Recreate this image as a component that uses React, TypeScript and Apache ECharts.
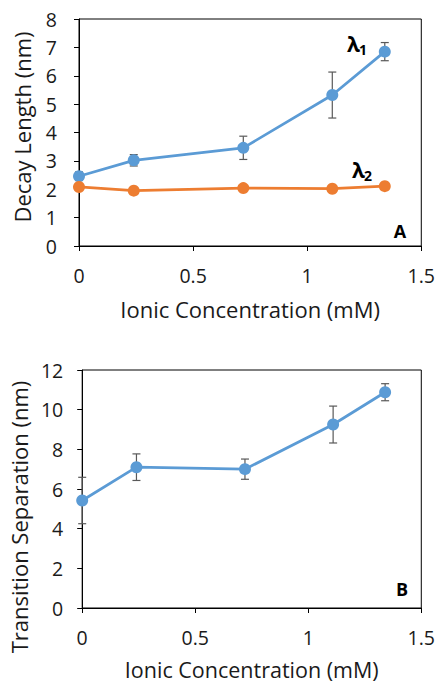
import React, { useEffect, useRef } from "react";
import * as echarts from "echarts";

const concentration = [0, 0.24, 0.72, 1.11, 1.34];
const lambda1 = [2.46, 3.02, 3.46, 5.32, 6.85];
const lambda1Err = [0.15, 0.2, 0.41, 0.81, 0.32];
const lambda2 = [2.08, 1.95, 2.04, 2.02, 2.11];
const separation = [5.42, 7.1, 7.0, 9.25, 10.88];
const separationErr = [1.17, 0.67, 0.51, 0.93, 0.43];

const xTitle = "Ionic Concentration (mM)";
const yTitleA = "Decay Length (nm)";
const yTitleB = "Transition Separation (nm)";

const BLUE = "#5B9BD5";
const ORANGE = "#ED7D31";
const FONT = "Open Sans";
const TEXT = "#1a1a1a";

function errorSeries(xIndex: number, vals: number[], errs: number[]) {
  return {
    type: "custom",
    xAxisIndex: xIndex,
    yAxisIndex: xIndex,
    z: 1,
    data: concentration.map((c, i) => [c, vals[i], errs[i]]),
    renderItem: (params: any, api: any) => {
      const x = api.value(0);
      const y = api.value(1);
      const e = api.value(2);
      const hi = api.coord([x, y + e]);
      const lo = api.coord([x, y - e]);
      const cap = 4;
      const style = { stroke: "#595959", lineWidth: 1.2 };
      return {
        type: "group",
        children: [
          { type: "line", shape: { x1: hi[0], y1: hi[1], x2: lo[0], y2: lo[1] }, style },
          { type: "line", shape: { x1: hi[0] - cap, y1: hi[1], x2: hi[0] + cap, y2: hi[1] }, style },
          { type: "line", shape: { x1: lo[0] - cap, y1: lo[1], x2: lo[0] + cap, y2: lo[1] }, style },
        ],
      };
    },
  };
}

function lineSeries(idx: number, vals: number[], color: string) {
  return {
    type: "line",
    xAxisIndex: idx,
    yAxisIndex: idx,
    z: 3,
    data: concentration.map((c, i) => [c, vals[i]]),
    symbol: "circle",
    symbolSize: 12,
    itemStyle: { color },
    lineStyle: { color, width: 2.75 },
  };
}

function lambdaLabel(x: number, y: number, sub: string) {
  return [
    {
      type: "text",
      x,
      y,
      style: { text: "λ", font: "bold 21px 'Open Sans'", fill: "#000", align: "left", verticalAlign: "middle" },
    },
    {
      type: "text",
      x: x + 12,
      y: y + 5,
      style: { text: sub, font: "bold 14px 'Open Sans'", fill: "#000", align: "left", verticalAlign: "middle" },
    },
  ];
}

export default function App() {
  const ref = useRef<HTMLDivElement>(null);
  useEffect(() => {
    const chart = echarts.init(ref.current!, null, { renderer: "svg" });
    const axisLine = { show: true, lineStyle: { color: "#000", width: 1 } };
    const axisTick = { show: true, inside: false, length: 5, lineStyle: { color: "#000" } };
    const labelStyle = { color: TEXT, fontSize: 19.5, fontFamily: FONT };
    const nameStyle = { color: TEXT, fontSize: 22, fontFamily: FONT };
    const xAxisCommon = (idx: number, margin: number, gap: number, size: number) => ({
      type: "value",
      gridIndex: idx,
      min: 0,
      max: 1.5,
      interval: 0.5,
      splitLine: { show: false },
      axisLine,
      axisTick,
      axisLabel: { ...labelStyle, margin },
      name: xTitle,
      nameLocation: "middle",
      nameGap: gap,
      nameTextStyle: { ...nameStyle, fontSize: size, lineHeight: size + 2 },
    });
    chart.setOption({
      animation: false,
      textStyle: { fontFamily: FONT },
      grid: [
        { left: 79, top: 19, width: 344, height: 227, show: true, borderColor: "#000", borderWidth: 1 },
        { left: 81, top: 370, width: 342, height: 238, show: true, borderColor: "#000", borderWidth: 1 },
      ],
      xAxis: [xAxisCommon(0, 19, 51, 22), xAxisCommon(1, 19, 50, 21.5)],
      yAxis: [
        {
          type: "value",
          gridIndex: 0,
          min: 0,
          max: 8,
          interval: 1,
          splitLine: { show: false },
          axisLine,
          axisTick,
          axisLabel: { ...labelStyle, margin: 22 },
          name: yTitleA,
          nameLocation: "middle",
          nameGap: 46,
          nameTextStyle: { ...nameStyle, padding: [0, 0, 0, 11] },
        },
        {
          type: "value",
          gridIndex: 1,
          min: 0,
          max: 12,
          interval: 2,
          splitLine: { show: false },
          axisLine,
          axisTick,
          axisLabel: { ...labelStyle, margin: 19 },
          name: yTitleB,
          nameLocation: "middle",
          nameGap: 50,
          nameTextStyle: { ...nameStyle, padding: [0, 56, 0, 0] },
        },
      ],
      series: [
        errorSeries(0, lambda1, lambda1Err),
        lineSeries(0, lambda1, BLUE),
        lineSeries(0, lambda2, ORANGE),
        errorSeries(1, separation, separationErr),
        lineSeries(1, separation, BLUE),
      ],
      graphic: [
        ...lambdaLabel(347, 44, "1"),
        ...lambdaLabel(352, 170, "2"),
        {
          type: "text",
          x: 400,
          y: 231,
          style: { text: "A", font: "bold 18px 'Open Sans'", fill: "#000", align: "center", verticalAlign: "middle" },
        },
        {
          type: "text",
          x: 402,
          y: 589,
          style: { text: "B", font: "bold 18px 'Open Sans'", fill: "#000", align: "center", verticalAlign: "middle" },
        },
      ],
    });
    return () => chart.dispose();
  }, []);
  return (
    <div
      ref={ref}
      style={{ position: "fixed", left: 0, top: 0, width: 438, height: 683, background: "#fff" }}
    />
  );
}
